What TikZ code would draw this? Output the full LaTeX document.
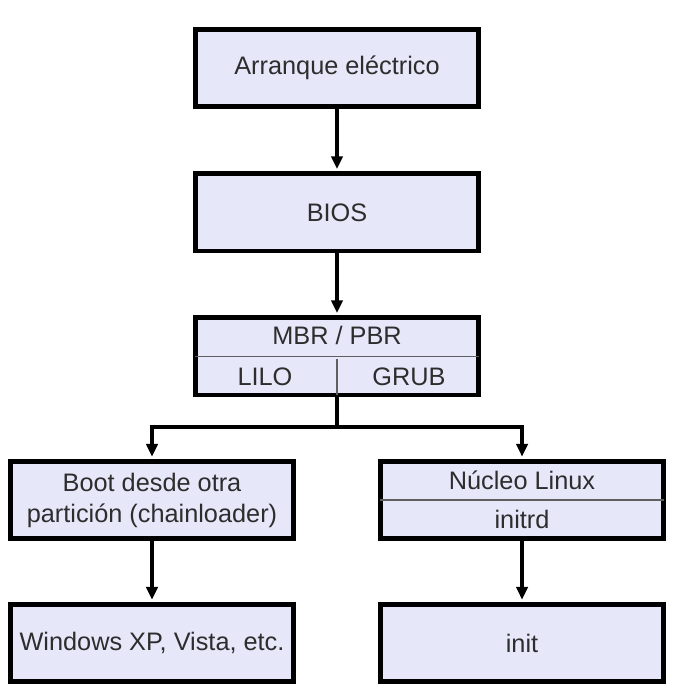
\documentclass[tikz,border=0pt]{standalone}
\usepackage{fontspec}
\setmainfont{Liberation Sans}
\usepackage{tikz}
\usetikzlibrary{arrows.meta,calc}
\definecolor{boxfill}{RGB}{230,232,250}
\definecolor{boxtext}{RGB}{45,45,45}
\definecolor{splitgray}{RGB}{95,95,95}

\begin{document}
\begin{tikzpicture}[
    bbox/.style={draw, line width=3.4pt, fill=boxfill, align=center, minimum width=7.08cm, minimum height=1.93cm,
                 inner sep=0pt, font=\fontsize{18}{22}\selectfont, text=boxtext},
    lbl/.style={inner sep=0pt, font=\fontsize{18}{22}\selectfont, text=boxtext},
    div/.style={draw=splitgray, line width=1pt, shorten <=1.7pt, shorten >=1.7pt},
    arr/.style={-{Triangle[width=8pt,length=9pt]}, line width=2.6pt, shorten >=1.7pt}
]
\useasboundingbox (0,0) rectangle (16.9,-17.325);
\node[bbox] (arq)  at (8.425,-1.7)    {Arranque eléctrico};
\node[bbox] (bios) at (8.425,-5.31)   {BIOS};
\node[bbox] (mbr)  at (8.425,-8.91)   {};
\node[bbox] (boot) at (3.8,-12.5)     {Boot desde otra\\partición (chainloader)};
\node[bbox] (nuc)  at (13.05,-12.5)   {};
\node[bbox] (win)  at (3.8,-16.075)   {Windows XP, Vista, etc.};
\node[bbox] (init) at (13.05,-16.075) {init};
% divided boxes
\draw[div] (mbr.west) -- (mbr.east);
\draw[div] (mbr.center) -- (mbr.south);
\node[lbl] (mbrtop) at (8.425,-8.39)  {MBR / PBR};
\node[lbl] (lilo)   at (6.625,-9.43)  {LILO};
\node[lbl] (grub)   at (10.225,-9.43) {GRUB};
\draw[div] (nuc.west) -- (nuc.east);
\node[lbl] (nuctop) at (13.05,-12.0)  {Núcleo Linux};
\node[lbl] (initrd) at (13.05,-12.98) {initrd};
% connectors
\coordinate (fork) at (8.425,-10.675);
\draw[arr] (arq) -- (bios); \draw[arr] (bios) -- (mbr);
\draw[line width=2.6pt] (mbr) -- (fork);
\draw[arr] (fork) -| (boot); \draw[arr] (fork) -| (nuc);
\draw[arr] (boot) -- (win); \draw[arr] (nuc) -- (init);
\end{tikzpicture}
\end{document}
